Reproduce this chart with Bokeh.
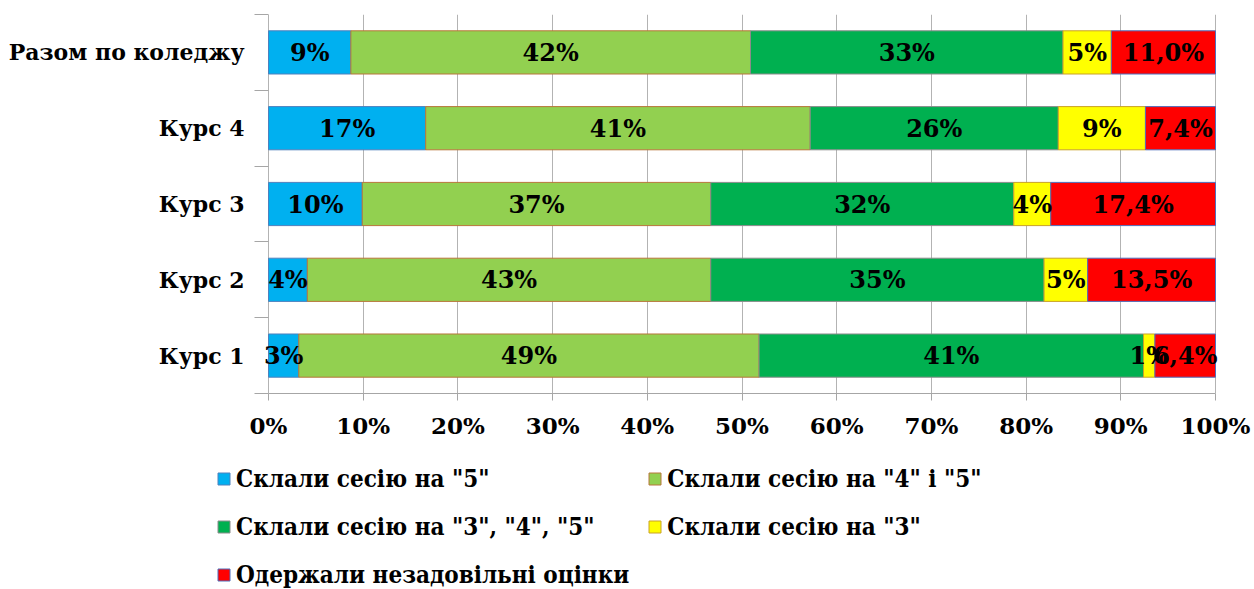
from bokeh.plotting import figure
from bokeh.models import (ColumnDataSource, FixedTicker, Range1d, Legend,
                          PrintfTickFormatter)
from bokeh.embed import file_html
from bokeh.resources import INLINE
from bokeh.core.properties import value

# ---------------- data ----------------
categories = ["Курс 1", "Курс 2", "Курс 3", "Курс 4", "Разом по коледжу"]
series_names = ['Склали сесію на "5"', 'Склали сесію на "4" і "5"',
                'Склали сесію на "3", "4", "5"', 'Склали сесію на "3"',
                'Одержали незадовільні оцінки']
s5 = [3.2, 4.1, 9.9, 16.6, 8.7]
s45 = [48.6, 42.6, 36.8, 40.6, 42.2]
s345 = [40.6, 35.2, 32.0, 26.2, 33.0]
s3 = [1.2, 4.6, 3.9, 9.2, 5.1]
fail = [6.4, 13.5, 17.4, 7.4, 11.0]
x_ticks = [0, 10, 20, 30, 40, 50, 60, 70, 80, 90, 100]

colors = ["#00B0F0", "#92D050", "#00B050", "#FFFF00", "#FF0000"]
borders = ["#4F81BD", "#B8763A", "#8C8C8C", "#C9A227", "#4F6FBD"]
keys = ["s5", "s45", "s345", "s3", "fail"]
series = [s5, s45, s345, s3, fail]

ypos = [i + 0.5 for i in range(len(categories))]
data = {"y": ypos}
for k, s in zip(keys, series):
    data[k] = s
source = ColumnDataSource(data)

# ---------------- layout constants ----------------
W = 1254
H1 = 450
H2 = 139
PX_PER_PCT = 9.47          # 0% at x=268, 100% at x=1215
FRAME_LEFT = 254
FRAME_RIGHT_BORDER = 20
x_start = -(268 - FRAME_LEFT) / PX_PER_PCT
x_end = 100 + (W - FRAME_RIGHT_BORDER - 1215) / PX_PER_PCT

p = figure(width=W, height=H1, output_backend="svg", toolbar_location=None,
           x_range=Range1d(x_start, x_end), y_range=Range1d(0, len(categories)),
           min_border_left=FRAME_LEFT, min_border_right=FRAME_RIGHT_BORDER,
           min_border_top=14, min_border_bottom=57)
p.outline_line_color = None
p.background_fill_color = "white"
p.border_fill_color = "white"

renderers = p.hbar_stack(keys, y="y", height=0.57, source=source,
                         fill_color=colors, line_color=borders, line_width=1)

# segment labels
lx, ly, lt = [], [], []
for ci in range(len(categories)):
    left = 0.0
    for si, s in enumerate(series):
        v = s[ci]
        lx.append(left + v / 2)
        ly.append(ypos[ci])
        if si == 4:
            lt.append(f"{v:.1f}%".replace(".", ","))
        else:
            lt.append(f"{round(v)}%")
        left += v
p.text(x=lx, y=ly, text=lt, text_align="center", text_baseline="middle",
       text_font=value("DejaVu Serif"), text_font_style="bold",
       text_font_size="24px", text_color="black")

# axes
xa = p.xaxis[0]
xa.ticker = FixedTicker(ticks=x_ticks)
xa.bounds = (0, 100)
xa.formatter = PrintfTickFormatter(format="%d%%")
xa.axis_line_color = "#A6A6A6"
xa.major_tick_line_color = "#A6A6A6"
xa.major_tick_in = 0
xa.major_tick_out = 7
xa.minor_tick_line_color = None
xa.major_label_text_font = "DejaVu Serif"
xa.major_label_text_font_style = "bold"
xa.major_label_text_font_size = "23px"
xa.major_label_text_color = "black"
xa.major_label_standoff = 11

ya = p.yaxis[0]
ya.ticker = FixedTicker(ticks=ypos, minor_ticks=list(range(len(categories) + 1)))
ya.major_label_overrides = {y: c for y, c in zip(ypos, categories)}
ya.axis_line_color = None
ya.major_tick_line_color = None
ya.major_tick_in = 0
ya.major_tick_out = 0
ya.minor_tick_line_color = "#A6A6A6"
ya.minor_tick_in = 268 - FRAME_LEFT
ya.minor_tick_out = 0
ya.major_label_text_font = "DejaVu Serif"
ya.major_label_text_font_style = "bold"
ya.major_label_text_font_size = "22px"
ya.major_label_text_color = "black"
ya.major_label_standoff = 10

p.xgrid.grid_line_color = "#B3B3B3"
p.xgrid.grid_line_width = 1
p.ygrid.grid_line_color = None

# ---------------- legend (separate strip below the chart) ----------------
q = figure(width=W, height=H2, output_backend="svg", toolbar_location=None,
           x_range=Range1d(0, 1), y_range=Range1d(10, 11),
           x_axis_location=None, y_axis_location=None,
           min_border_left=0, min_border_right=0, min_border_top=0,
           min_border_bottom=0)
q.grid.visible = False
q.outline_line_color = None
q.border_fill_color = "white"
q.background_fill_color = "white"

leg_renderers = q.hbar_stack(keys, y="y", height=0.57, source=source,
                             fill_color=colors, line_color=borders, line_width=1)
leg_items = [(n, [r]) for n, r in zip(series_names, leg_renderers)]

legend = Legend(items=leg_items,
                location=(216, 0), orientation="horizontal", ncols=2,
                glyph_width=15, glyph_height=15, label_standoff=5,
                label_height=30, label_width=393, spacing=18, padding=0, margin=0,
                border_line_color=None, background_fill_alpha=0,
                label_text_font="DejaVu Serif Condensed", label_text_font_style="bold",
                label_text_font_size="24px", label_text_color="black")
q.add_layout(legend, "center")

open("out.html", "w").write(file_html([p, q], INLINE))
